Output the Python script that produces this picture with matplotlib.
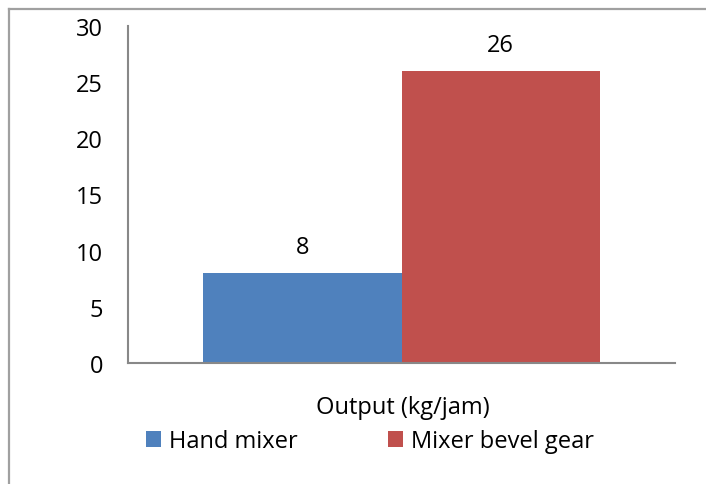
import matplotlib
matplotlib.use("Agg")
import matplotlib.pyplot as plt
from matplotlib.lines import Line2D

categories = ["Output (kg/jam)"]
series_names = ["Hand mixer", "Mixer bevel gear"]
values = [8, 26]
colors = ["#4F81BD", "#C0504D"]
yticks = [0, 5, 10, 15, 20, 25, 30]

plt.rcParams["font.family"] = ["Open Sans", "DejaVu Sans"]
fs = 17

W, H = 706, 485
fig = plt.figure(figsize=(W / 100, H / 100), dpi=100)

# outer chart frame (cropped on right and bottom)
fig.add_artist(Line2D([9 / W, 1], [1 - 10 / H, 1 - 10 / H], color="#a0a0a0", lw=1.6))
fig.add_artist(Line2D([9 / W, 9 / W], [0, 1 - 10 / H], color="#a0a0a0", lw=1.6))

ax = fig.add_axes([128 / W, 1 - 364 / H, (675 - 128) / W, (364 - 27) / H])

bw = 0.5
offsets = [-bw / 2, bw / 2]
for name, v, c, off in zip(series_names, values, colors, offsets):
    ax.bar(off, v, width=bw, color=c, label=name)
    ax.annotate(str(v), (off, v), xytext=(0, 19), textcoords="offset points",
                ha="center", va="center", fontsize=fs)

half = (547 / 2) / 397
ax.set_xlim(-half, half)
ax.set_ylim(0, 30)
ax.set_yticks(yticks)
ax.tick_params(axis="y", length=0, pad=18, labelsize=fs)
ax.set_xticks([])
for s in ["top", "right"]:
    ax.spines[s].set_visible(False)
for s in ["left", "bottom"]:
    ax.spines[s].set_color("#888888")
    ax.spines[s].set_linewidth(1.5)

fig.text(403 / W, 1 - 408 / H, categories[0], ha="center", va="center", fontsize=fs)

leg = fig.legend(loc="center", bbox_to_anchor=(370 / W, 1 - 442 / H), ncol=2,
                 frameon=False, fontsize=fs, handlelength=0.64, handleheight=0.64,
                 handletextpad=0.34, columnspacing=3.8, borderpad=0, borderaxespad=0)

fig.savefig("out.png", dpi=100)
